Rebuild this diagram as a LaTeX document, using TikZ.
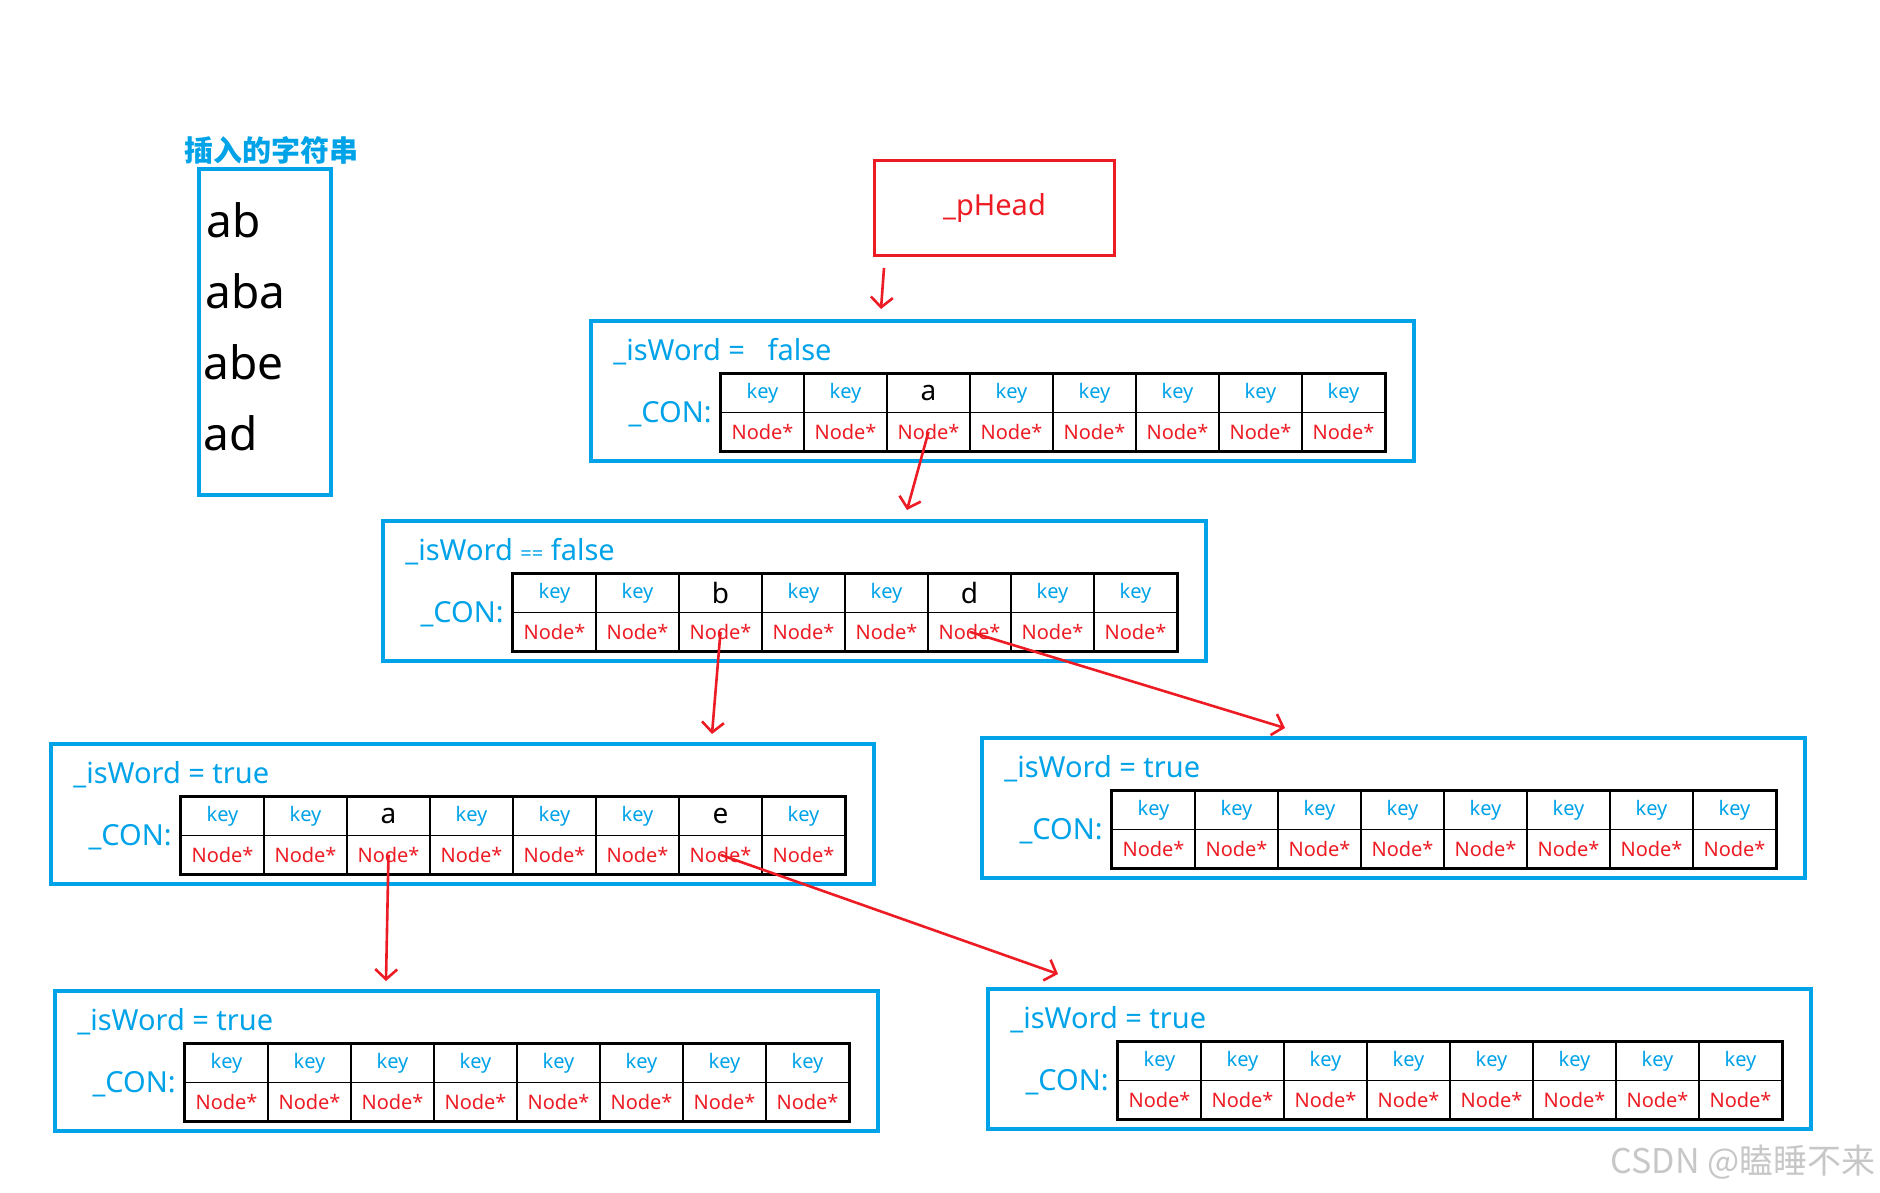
\documentclass[tikz,border=0pt]{standalone}
\usepackage{fontspec}
\setmainfont{Noto Sans}
\newfontfamily\cjk{Noto Sans CJK SC}
\usetikzlibrary{arrows.meta}
\definecolor{paintblue}{RGB}{0,162,232}
\definecolor{paintred}{RGB}{237,28,36}
\newcommand\cellkey[1]{\edef\tmpk{#1}\def\tmpkey{key}%
  \ifx\tmpk\tmpkey\color{paintblue}\fontsize{10}{12}\selectfont key%
  \else\fontsize{14}{16}\selectfont #1\fi}

\begin{document}
\begin{tikzpicture}[x=0.5pt,y=-0.5pt]
    \tikzset{every node/.style={inner sep=0pt},
      trie/.style={draw=paintblue,line width=2pt,minimum width=411.5pt,minimum height=70pt,anchor=north west},
      cell/.style={draw=black,line width=0.9pt,minimum width=41.5pt,minimum height=19.25pt},
      wordtxt/.style={text=paintblue,font=\fontsize{14.5}{16}\selectfont},
      strtxt/.style={font=\fontsize{23}{26}\selectfont,anchor=base west},
      link/.style={draw=paintred,line width=1.3pt,-{Straight Barb[length=5pt,width=11pt]}}}
    \useasboundingbox (0,0) rectangle (1880,1193);
    % inserted strings
    \node[text=paintblue,font=\cjk\bfseries\fontsize{14.5}{16}\selectfont] (title) at (271,150) {插入的字符串};
    \node[draw=paintblue,line width=2pt,minimum width=66pt,minimum height=163pt] (strs) at (265,332) {};
    \node[strtxt] (s1) at (206,237) {ab};
    \node[strtxt] (s2) at (205,308) {aba};
    \node[strtxt] (s3) at (203,379) {abe};
    \node[strtxt] (s4) at (203,450) {ad};
    % head pointer
    \node[draw=paintred,line width=1.5pt,minimum width=120pt,minimum height=47.5pt,text=paintred,font=\fontsize{14.5}{16}\selectfont] (ph) at (994.5,208) {\_pHead};
    % trie nodes
    \foreach \n/\x/\y/\txt/\keys in {
      n1/589/319/{= \ \ false}/{key,key,a,key,key,key,key,key},
      n2/381/519/{{\fontsize{10}{12}\selectfont==} false}/{key,key,b,key,key,d,key,key},
      n3/49/742/{= true}/{key,key,a,key,key,key,e,key},
      n4/980/736/{= true}/{key,key,key,key,key,key,key,key},
      n5/53/989/{= true}/{key,key,key,key,key,key,key,key},
      n6/986/987/{= true}/{key,key,key,key,key,key,key,key}}{
      \node[trie] (\n) at (\x,\y) {};
      \node[wordtxt,anchor=base west] (\n w) at (\x+24,\y+41) {\_isWord \txt};
      \node[wordtxt,anchor=base east] (\n c) at (\x+123,\y+103) {\_CON:};
      \foreach \k [count=\i] in \keys {
        \node[cell] (\n k\i) at (\x+90.5+83*\i,\y+74.25) {\cellkey{\k}};
        \node[cell,text=paintred,font=\fontsize{10}{12}\selectfont] (\n v\i) at (\x+90.5+83*\i,\y+112.75) {Node*};
      }
      \draw[line width=1.5pt] (\n k1.north west) rectangle (\n v8.south east);
    }
    % pointers
    \coordinate (e0) at (881,309);
    \coordinate (e1) at (907,510);
    \coordinate (e2) at (712,734);
    \coordinate (e3) at (1285,728);
    \coordinate (e4) at (386,981);
    \coordinate (e5) at (1058,974);
    \draw[link] ([xshift=5.5pt,yshift=-5.5pt]ph.south west) -- (e0);
    \draw[link] (n1v3.center) -- (e1);
    \draw[link] (n2v3.center) -- (e2);
    \draw[link] (n2v6.center) -- (e3);
    \draw[link] (n3v3.center) -- (e4);
    \draw[link] (n3v7.center) -- (e5);
    \node[text=black!22,font=\cjk\fontsize{17}{19}\selectfont,anchor=east] (mark) at (1876,1162) {CSDN @瞌睡不来};
\end{tikzpicture}
\end{document}
